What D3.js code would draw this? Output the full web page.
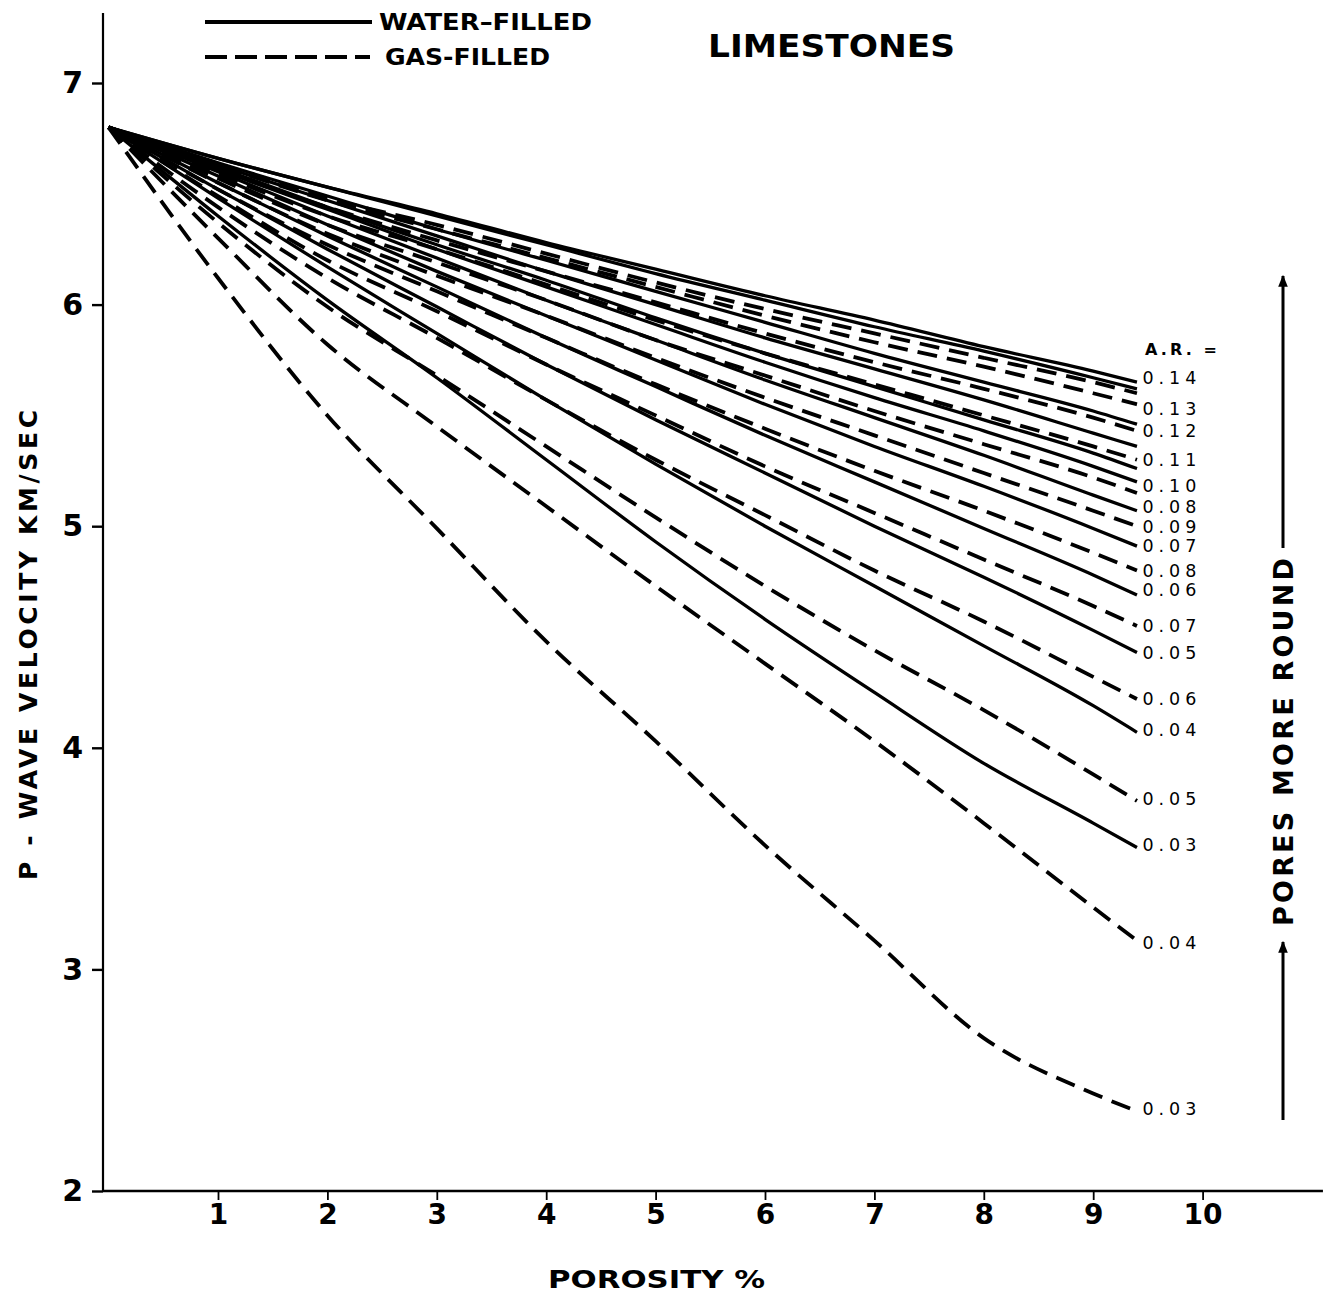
<!DOCTYPE html>
<html>
<head>
<meta charset="utf-8">
<script src="https://cdn.jsdelivr.net/npm/d3@7/dist/d3.min.js"></script>
<style>
  html, body { margin: 0; padding: 0; background: #fff; }
  svg { display: block; }
</style>
</head>
<body>
<svg id="chart" width="1330" height="1293"></svg>
<script>
// ---------------- DATA ----------------
const porosity = [0, 1, 2, 3, 4, 5, 6, 7, 8, 9, 9.4];

// water-filled (solid)
const water_014 = [6.80, 6.66, 6.53, 6.41, 6.28, 6.16, 6.04, 5.93, 5.81, 5.70, 5.65];
const water_013 = [6.80, 6.66, 6.53, 6.40, 6.27, 6.14, 6.02, 5.90, 5.79, 5.67, 5.62];
const water_012 = [6.80, 6.64, 6.49, 6.34, 6.20, 6.06, 5.92, 5.78, 5.65, 5.52, 5.46];
const water_011 = [6.80, 6.63, 6.47, 6.31, 6.15, 6.00, 5.85, 5.71, 5.57, 5.42, 5.36];
const water_010 = [6.80, 6.62, 6.44, 6.27, 6.11, 5.94, 5.78, 5.63, 5.48, 5.33, 5.26];
const water_009 = [6.80, 6.61, 6.43, 6.25, 6.08, 5.91, 5.74, 5.58, 5.43, 5.27, 5.20];
const water_008 = [6.80, 6.60, 6.40, 6.21, 6.02, 5.84, 5.66, 5.49, 5.32, 5.14, 5.07];
const water_007 = [6.80, 6.58, 6.36, 6.15, 5.95, 5.75, 5.55, 5.36, 5.18, 4.99, 4.91];
const water_006 = [6.80, 6.55, 6.31, 6.08, 5.85, 5.63, 5.41, 5.20, 4.99, 4.78, 4.69];
const water_005 = [6.80, 6.52, 6.25, 5.99, 5.73, 5.48, 5.24, 5.00, 4.77, 4.53, 4.43];
const water_004 = [6.80, 6.48, 6.17, 5.87, 5.57, 5.28, 5.00, 4.73, 4.46, 4.19, 4.07];
const water_003 = [6.80, 6.40, 6.02, 5.67, 5.30, 4.93, 4.58, 4.25, 3.93, 3.66, 3.55];

// gas-filled (dashed)
const gas_014 = [6.80, 6.63, 6.48, 6.36, 6.23, 6.10, 5.98, 5.87, 5.76, 5.65, 5.60];
const gas_013 = [6.80, 6.63, 6.47, 6.34, 6.21, 6.08, 5.95, 5.83, 5.72, 5.60, 5.55];
const gas_012 = [6.80, 6.61, 6.44, 6.29, 6.15, 6.01, 5.87, 5.74, 5.62, 5.49, 5.43];
const gas_011 = [6.80, 6.59, 6.40, 6.25, 6.09, 5.93, 5.78, 5.64, 5.50, 5.36, 5.30];
const gas_010 = [6.80, 6.57, 6.36, 6.19, 6.02, 5.84, 5.68, 5.52, 5.37, 5.22, 5.15];
const gas_009 = [6.80, 6.55, 6.32, 6.13, 5.95, 5.76, 5.58, 5.41, 5.24, 5.07, 5.00];
const gas_008 = [6.80, 6.52, 6.27, 6.06, 5.85, 5.64, 5.44, 5.25, 5.07, 4.88, 4.80];
const gas_007 = [6.80, 6.49, 6.20, 5.97, 5.73, 5.50, 5.27, 5.06, 4.85, 4.64, 4.55];
const gas_006 = [6.80, 6.44, 6.12, 5.85, 5.57, 5.30, 5.05, 4.80, 4.57, 4.32, 4.22];
const gas_005 = [6.80, 6.37, 5.99, 5.68, 5.36, 5.04, 4.73, 4.44, 4.17, 3.88, 3.76];
const gas_004 = [6.80, 6.30, 5.82, 5.45, 5.09, 4.73, 4.38, 4.03, 3.66, 3.28, 3.13];
const gas_003 = [6.80, 6.12, 5.50, 4.99, 4.48, 4.03, 3.56, 3.13, 2.69, 2.44, 2.36];

// curve labels at right end (text, velocity level of the label)
const labelText = ["0.14","0.13","0.12","0.11","0.10","0.08","0.09","0.07","0.08","0.06","0.07","0.05","0.06","0.04","0.05","0.03","0.04","0.03"];
const labelVel  = [5.67, 5.53, 5.43, 5.30, 5.18, 5.085, 4.995, 4.91, 4.80, 4.71, 4.55, 4.43, 4.22, 4.08, 3.77, 3.56, 3.12, 2.37];

const xTicks = [1, 2, 3, 4, 5, 6, 7, 8, 9, 10];
const yTicks = [2, 3, 4, 5, 6, 7];

// ---------------- BUILD ----------------
const waterSeries = [water_014, water_013, water_012, water_011, water_010, water_009,
                     water_008, water_007, water_006, water_005, water_004, water_003];
const gasSeries = [gas_014, gas_013, gas_012, gas_011, gas_010, gas_009,
                   gas_008, gas_007, gas_006, gas_005, gas_004, gas_003];

const svg = d3.select("#chart");
const x = d3.scaleLinear().domain([0, 10]).range([108.6, 1202.6]);
const y = d3.scaleLinear().domain([2, 7]).range([1191, 83]);

const FONT = "'DejaVu Sans', 'Liberation Sans', sans-serif";

// axes lines
svg.append("line").attr("x1", 103).attr("x2", 103)
  .attr("y1", y(7.316)).attr("y2", y(2)).attr("stroke", "#000").attr("stroke-width", 2.2);
svg.append("line").attr("x1", 103).attr("x2", x(11.1))
  .attr("y1", y(2)).attr("y2", y(2)).attr("stroke", "#000").attr("stroke-width", 2.6);

// y axis
const yAxis = svg.append("g").attr("transform", "translate(103,0)")
  .call(d3.axisLeft(y).tickValues(yTicks).tickSize(11).tickPadding(9).tickFormat(d3.format("d")));
yAxis.select(".domain").remove();
yAxis.selectAll(".tick line").attr("stroke", "#000").attr("stroke-width", 2.4);
yAxis.selectAll(".tick text").attr("font-family", FONT).attr("font-weight", "bold")
  .attr("font-size", 30).attr("fill", "#000");

// x axis
const xAxis = svg.append("g").attr("transform", `translate(0,${y(2)})`)
  .call(d3.axisBottom(x).tickValues(xTicks).tickSize(9).tickPadding(4).tickFormat(d3.format("d")));
xAxis.select(".domain").remove();
xAxis.selectAll(".tick line").attr("stroke", "#000").attr("stroke-width", 1.8);
xAxis.selectAll(".tick text").attr("font-family", FONT).attr("font-weight", "bold")
  .attr("font-size", 28).attr("fill", "#000");

// curves
const line = d3.line()
  .x((d, i) => x(porosity[i]))
  .y(d => y(d))
  .curve(d3.curveMonotoneX);

svg.append("g").selectAll("path.water").data(waterSeries).join("path")
  .attr("class", "water")
  .attr("d", line).attr("fill", "none").attr("stroke", "#000")
  .attr("stroke-width", 3.3).attr("stroke-linejoin", "round");

svg.append("g").selectAll("path.gas").data(gasSeries).join("path")
  .attr("class", "gas")
  .attr("d", line).attr("fill", "none").attr("stroke", "#000")
  .attr("stroke-width", 3.8).attr("stroke-dasharray", "20,10");

// curve labels
svg.append("g").selectAll("text").data(labelText).join("text")
  .attr("x", x(9.45)).attr("y", (d, i) => y(labelVel[i]))
  .attr("dominant-baseline", "central")
  .attr("font-family", FONT).attr("font-size", 17.5).attr("letter-spacing", 5)
  .attr("fill", "#000").text(d => d);

svg.append("text").attr("x", 1145).attr("y", 349).attr("dominant-baseline", "central")
  .attr("font-family", FONT).attr("font-weight", "bold").attr("font-size", 16)
  .attr("textLength", 72).attr("lengthAdjust", "spacing").text("A.R. =");

// legend
svg.append("line").attr("x1", 205).attr("x2", 372).attr("y1", 22).attr("y2", 22)
  .attr("stroke", "#000").attr("stroke-width", 4);
svg.append("line").attr("x1", 205).attr("x2", 370).attr("y1", 57).attr("y2", 57)
  .attr("stroke", "#000").attr("stroke-width", 4).attr("stroke-dasharray", "22,8");
svg.append("text").attr("x", 379).attr("y", 22).attr("dominant-baseline", "central")
  .attr("font-family", FONT).attr("font-weight", "bold").attr("font-size", 23)
  .attr("textLength", 213).attr("lengthAdjust", "spacingAndGlyphs").text("WATER\u2013FILLED");
svg.append("text").attr("x", 385).attr("y", 57).attr("dominant-baseline", "central")
  .attr("font-family", FONT).attr("font-weight", "bold").attr("font-size", 23)
  .attr("textLength", 165).attr("lengthAdjust", "spacingAndGlyphs").text("GAS-FILLED");

// title
svg.append("text").attr("x", 708).attr("y", 46).attr("dominant-baseline", "central")
  .attr("font-family", FONT).attr("font-weight", "bold").attr("font-size", 32)
  .attr("textLength", 247).attr("lengthAdjust", "spacingAndGlyphs").text("LIMESTONES");

// axis titles
svg.append("text").attr("x", 548).attr("y", 1279).attr("dominant-baseline", "central")
  .attr("font-family", FONT).attr("font-size", 25).attr("font-weight", 600)
  .attr("textLength", 217).attr("lengthAdjust", "spacingAndGlyphs").text("POROSITY %");

svg.append("text").attr("transform", "translate(28,880) rotate(-90)")
  .attr("dominant-baseline", "central")
  .attr("font-family", FONT).attr("font-size", 25).attr("font-weight", 600)
  .attr("textLength", 470).attr("lengthAdjust", "spacing").text("P - WAVE  VELOCITY  KM/SEC");

// "pores more round" arrow
const ax = 1283;
svg.append("defs").append("marker").attr("id", "arr").attr("viewBox", "0 0 10 10")
  .attr("refX", 9).attr("refY", 5).attr("markerWidth", 4).attr("markerHeight", 5)
  .attr("markerUnits", "strokeWidth").attr("orient", "auto")
  .append("path").attr("d", "M0,1 L10,5 L0,9 Z").attr("fill", "#000");
svg.append("line").attr("x1", ax).attr("x2", ax).attr("y1", 1120).attr("y2", 942)
  .attr("stroke", "#000").attr("stroke-width", 3).attr("marker-end", "url(#arr)");
svg.append("line").attr("x1", ax).attr("x2", ax).attr("y1", 548).attr("y2", 276)
  .attr("stroke", "#000").attr("stroke-width", 3).attr("marker-end", "url(#arr)");
svg.append("text").attr("transform", `translate(${ax},926) rotate(-90)`)
  .attr("dominant-baseline", "central")
  .attr("font-family", FONT).attr("font-size", 27).attr("font-weight", "bold")
  .attr("textLength", 368).attr("lengthAdjust", "spacing").text("PORES  MORE  ROUND");
</script>
</body>
</html>
